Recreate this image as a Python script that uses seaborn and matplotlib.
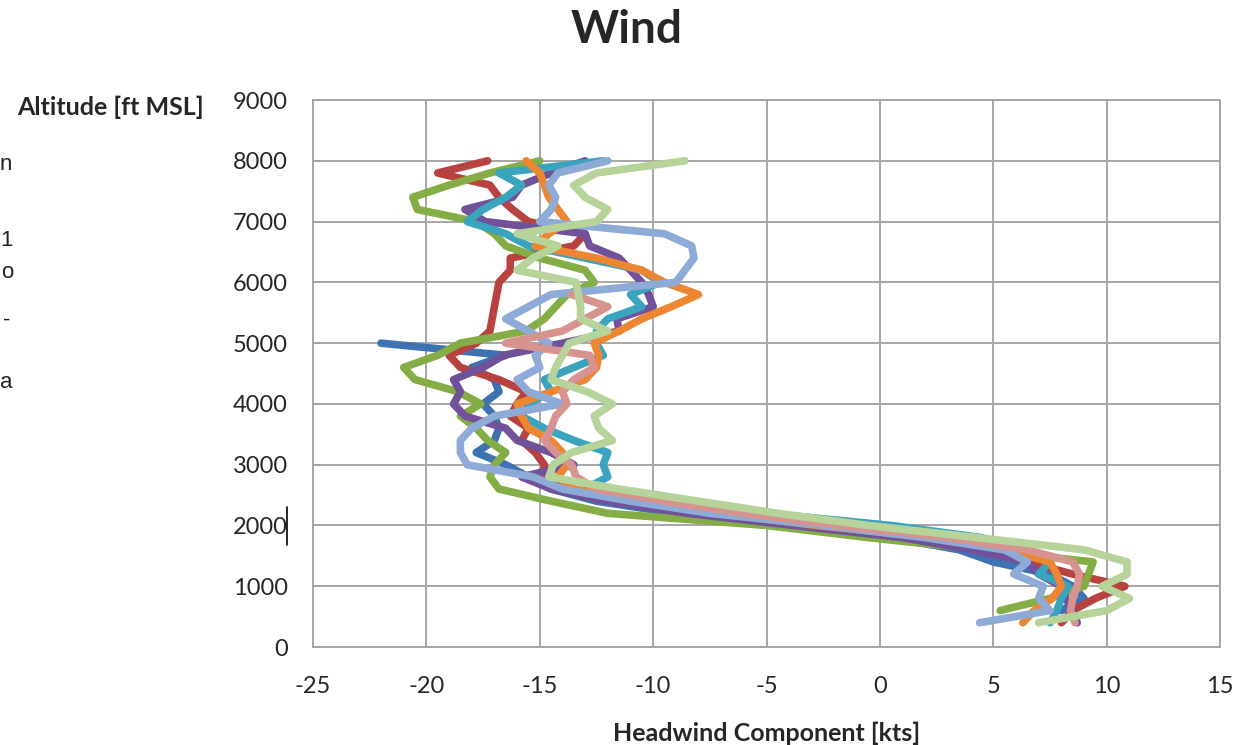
import numpy as np
import pandas as pd
import seaborn as sns
import matplotlib.pyplot as plt
from matplotlib.lines import Line2D

# altitude levels (ft MSL), top of profile down to the runway
altitude = [8000, 7800, 7600, 7400, 7200, 7000, 6800, 6600, 6400, 6200,
            6000, 5800, 5600, 5400, 5200, 5000, 4800, 4600, 4400, 4200,
            4000, 3800, 3600, 3400, 3200, 3000, 2800, 2600, 2400, 2200,
            2000, 1800, 1600, 1400, 1200, 1000, 800, 600, 400]

# headwind component [kts] per profile (None = no data)
blue = [None, None, None, None, None, None, None, None, None, None,
        None, None, None, None, None, -22.0, -16.5, -18.0, -17.0, -16.8,
        -17.5, -17.0, -16.8, -17.0, -17.8, -16.5, -15.5, -14.5, -12.5, -9.0,
        -4.5, 0.5, 3.5, 5.0, 7.5, 8.5, 9.0, 8.0, None]
red = [-17.3, -19.5, -17.2, -16.8, -16.2, -15.5, -13.0, -13.5, -16.3, -16.3,
       -16.8, -16.9, -17.0, -17.1, -17.2, -17.8, -19.0, -18.5, -16.8, -15.6,
       -16.0, -16.3, -15.5, -15.8, -15.2, -14.8, -14.8, -14.0, -11.5, -7.5,
       -3.0, 2.0, 5.0, 6.5, 8.5, 10.8, 9.5, 8.5, 8.0]
green = [-15.0, -17.2, -19.0, -20.6, -20.4, -17.8, -17.0, -16.5, -15.0, -13.0,
         -12.6, -13.8, -14.3, -14.8, -15.6, -18.5, -19.5, -21.0, -20.5, -18.6,
         -17.6, -18.5, -17.8, -17.3, -16.5, -17.0, -17.2, -16.8, -14.5, -12.0,
         -5.0, -0.5, 4.5, 9.4, 9.2, 9.0, 7.5, 5.3, None]
purple = [-13.0, -14.5, -15.8, -16.2, -18.3, -17.4, -13.0, -12.8, -11.5, -11.0,
          -10.5, -10.2, -10.0, -11.6, -11.5, -14.0, -16.6, -17.5, -18.8, -18.5,
          -18.8, -18.3, -16.5, -16.0, -14.5, -13.5, -15.8, -14.5, -12.0, -8.5,
          -3.8, 1.0, 4.0, 6.5, 7.0, 8.0, 8.2, 8.5, 8.7]
teal = [-12.2, -16.8, -15.8, -16.5, -17.5, -18.2, -16.5, -15.5, -13.0, -10.5,
        -9.7, -11.0, -10.5, -12.0, -12.5, -12.5, -12.2, -13.5, -14.8, -14.5,
        -15.5, -15.8, -14.8, -13.5, -12.0, -12.2, -12.0, -13.0, -10.0, -5.0,
        0.5, 4.5, 5.8, 7.5, 7.0, 8.3, 8.0, 7.8, 7.5]
orange = [-15.6, -15.0, -14.8, -14.6, -14.2, -13.8, -14.6, -15.2, -12.5, -10.5,
          -9.5, -8.0, -9.2, -10.5, -11.5, -12.6, -12.4, -12.5, -13.0, -14.5,
          -16.0, -15.8, -15.5, -14.5, -14.0, -13.8, -14.2, -13.5, -10.5, -7.0,
          -2.8, 2.5, 5.5, 7.5, 7.8, 8.0, 7.6, 6.8, 6.3]
light_blue = [-12.0, -14.2, -14.6, -14.3, -14.5, -15.0, -9.5, -8.3, -8.2, -8.6,
              -9.0, -14.5, -15.5, -16.5, -15.5, -14.6, -15.2, -15.0, -16.0, -15.5,
              -14.0, -17.0, -18.0, -18.5, -18.5, -18.2, -15.3, -14.0, -11.0, -7.5,
              -2.5, 2.0, 5.5, 6.5, 5.9, 7.2, 7.0, 7.5, 4.4]
pink = [None, None, None, None, None, None, None, None, None, None,
        None, -13.6, -12.0, -13.0, -14.0, -16.5, -12.8, -12.6, -13.5, -14.0,
        -13.8, -14.3, -14.5, -14.8, -14.3, -13.6, -13.4, -12.5, -9.5, -6.0,
        -1.8, 3.0, 6.5, 8.5, 8.8, 8.7, 8.5, 8.4, 8.6]
light_green = [-8.6, -12.5, -13.5, -13.0, -12.0, -12.5, -16.0, -14.2, -15.3, -16.0,
               -13.4, -13.3, -13.2, -13.2, -12.0, -13.7, -14.0, -14.3, -14.5, -12.9,
               -11.8, -12.6, -12.4, -11.8, -13.6, -14.4, -14.6, -11.5, -8.0, -4.5,
               -0.5, 4.3, 9.0, 10.9, 10.9, 9.8, 11.0, 10.0, 7.0]

series = {'1': blue, '2': red, '3': green, '4': purple, '5': teal,
          '6': orange, '7': light_blue, '8': pink, '9': light_green}
colors = ['#3F72B0', '#B8423F', '#84AE45', '#70519A', '#3AA3BE',
          '#EC8632', '#8EAAD6', '#D79390', '#B6D49A']

rows = []
for name, vals in series.items():
    for alt, hw in zip(altitude, vals):
        if hw is not None:
            rows.append({'run': name, 'alt': alt, 'hw': hw})
df = pd.DataFrame(rows)

sns.set_style('white')
plt.rcParams['font.family'] = ['Lato', 'DejaVu Sans']
plt.rcParams['axes.unicode_minus'] = False

fig = plt.figure(figsize=(12.45, 7.45), dpi=100)
ax = fig.add_axes([0.2514, 0.1315, 0.7286, 0.7342])

sns.lineplot(data=df, x='hw', y='alt', hue='run', palette=colors, sort=False,
             estimator=None, lw=5.5, legend=False,
             solid_joinstyle='round', solid_capstyle='round', ax=ax)

grey = '#A6A6A6'
ax.set_xlim(-25, 15)
ax.set_ylim(0, 9000)
ax.set_xticks(range(-25, 16, 5))
ax.set_yticks(range(0, 9001, 1000))
ax.grid(True, color=grey, lw=1.4)
ax.set_axisbelow(True)
for sp in ax.spines.values():
    sp.set_color(grey)
    sp.set_linewidth(1.4)
ax.tick_params(axis='both', colors=grey, length=6, width=1.4, labelsize=17,
               labelcolor='#262626')
ax.tick_params(axis='x', pad=15)
ax.tick_params(axis='y', pad=12)

fig.text(0.503, 1 - 30 / 745, 'Wind', ha='center', va='center',
         fontsize=33, fontweight='bold')
ax.set_xlabel('Headwind Component [kts]', fontsize=18, fontweight='bold',
              va='center')
ax.xaxis.set_label_coords(0.5, -0.157)
ax.set_ylabel('Altitude [ft MSL]', fontsize=18, fontweight='bold', rotation=0,
              ha='left', va='center')
ax.yaxis.set_label_coords(-0.326, 0.987)

# cut-off text from the neighbouring page on the left edge
for s, xp, yp in [('n', 12, 165), ('1', 13, 241), ('o', 13, 272),
                  ('-', 10, 320), ('a', 12, 383)]:
    fig.text(xp / 1245, 1 - yp / 745, s, ha='right', va='center',
             fontsize=16, family='Liberation Sans', color='#222222')

# text cursor next to the 2000 label
fig.add_artist(Line2D([287 / 1245, 287 / 1245], [1 - 507 / 745, 1 - 545 / 745],
                      color='black', lw=1.2))

fig.savefig('out.png', dpi=100)
